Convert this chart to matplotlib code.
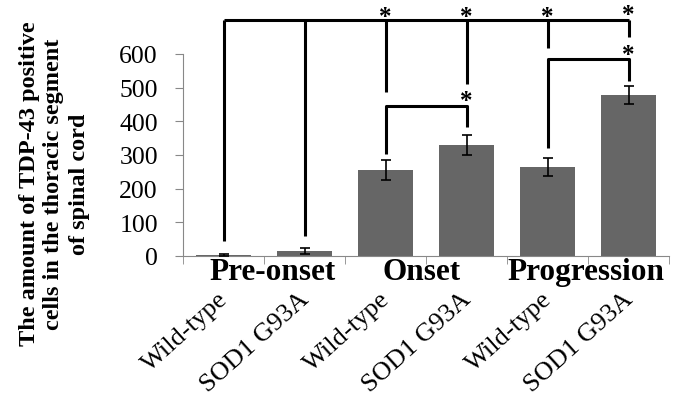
import matplotlib
matplotlib.use("Agg")
from matplotlib import pyplot as plt
import matplotlib.transforms as mtransforms
import numpy as np

plt.rcParams['font.family'] = ['Liberation Serif', 'DejaVu Serif']

# data
tick_labels = ['Wild-type', 'SOD1 G93A', 'Wild-type', 'SOD1 G93A', 'Wild-type', 'SOD1 G93A']
groups = ['Pre-onset', 'Onset', 'Progression']
valores = [3, 15, 255, 330, 265, 478]
erros = [2, 8, 30, 30, 27, 26]

# brackets: (x pos, bottom of the drop)
topo = 700
quedas_topo = [(0, 45), (1, 60), (2, 487), (3, 510), (4, 617), (5, 650)]
estrelas_topo = [(2, 712), (3, 712), (4, 712), (5, 718)]
# small brackets: x1, x2, height, drop1, drop2, star height
colchetes = [(2, 3, 446, 303, 383, 462), (4, 5, 585, 321, 520, 598)]

fig = plt.figure(figsize=(6.76, 4.02), dpi=100)
ax = fig.add_axes([183/676, 145/402, 486/676, 202/402])

x = np.arange(len(valores))
ax.bar(x, valores, width=0.67, color='#666666', zorder=2)
ax.errorbar(x, valores, yerr=erros, fmt='none', ecolor='black', elinewidth=1.2,
            capsize=3.5, capthick=1.2, zorder=3)

ax.set_xlim(-0.5, 5.5)
ax.set_ylim(0, 600)
ax.set_yticks(range(0, 601, 100))
ax.tick_params(axis='y', labelsize=18.5, length=6, color='#888888', pad=12)
ax.spines['top'].set_visible(False)
ax.spines['right'].set_visible(False)
ax.spines['left'].set_color('#888888')
ax.spines['bottom'].set_color('#888888')

ax.set_xticks(np.arange(-0.5, 6, 1), minor=True)
ax.set_xticks(x)
ax.set_xticklabels([])
ax.tick_params(axis='x', which='major', length=0)
ax.tick_params(axis='x', which='minor', length=6, color='#888888')

tr = ax.get_xaxis_transform()
pos_grupo = [0.6, 2.45, 4.47]
for g, p in zip(groups, pos_grupo):
    ax.text(p, -0.075, g, transform=tr, ha='center', va='center',
            fontsize=22.5, fontweight='bold')

off = mtransforms.offset_copy(tr, fig=fig, x=1, y=-5, units='dots')
for i, lab in enumerate(tick_labels):
    ax.text(i, -0.17, lab, transform=off, rotation=42, ha='right', va='center',
            rotation_mode='anchor', fontsize=19)

lw = 2.2
ax.plot([0, 5], [topo, topo], color='black', lw=lw, clip_on=False, solid_capstyle='butt')
for xi, yb in quedas_topo:
    ax.plot([xi, xi], [topo, yb], color='black', lw=lw, clip_on=False, solid_capstyle='butt')
for xi, ys in estrelas_topo:
    ax.text(xi, ys, '*', ha='center', va='center', fontsize=18, fontweight='bold', clip_on=False)
for x1, x2, h, d1, d2, ys in colchetes:
    ax.plot([x1, x1, x2, x2], [d1, h, h, d2], color='black', lw=lw, clip_on=False,
            solid_capstyle='butt')
    ax.text(x2, ys, '*', ha='center', va='center', fontsize=18, fontweight='bold', clip_on=False)

fig.text(54/676, 1 - 184/402,
         'The amount of TDP-43 positive\ncells in the thoracic segment\nof spinal cord',
         rotation=90, ha='center', va='center', multialignment='center',
         fontsize=17.5, fontweight='bold', linespacing=1.25)

fig.savefig('out.png', dpi=100)
